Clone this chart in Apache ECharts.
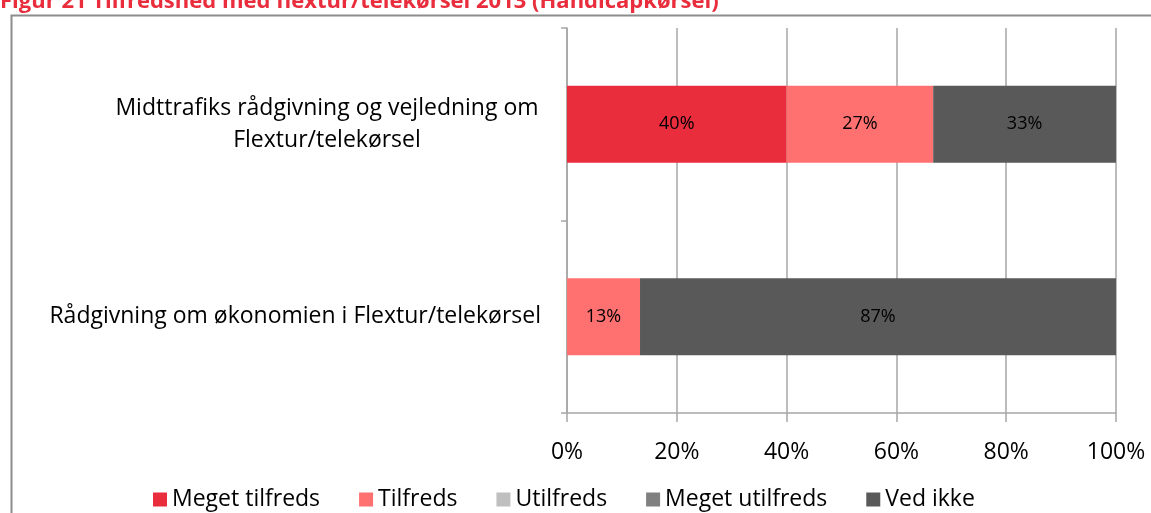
<!DOCTYPE html>
<html>
<head>
<meta charset="utf-8">
<script src="https://cdn.jsdelivr.net/npm/echarts@6/dist/echarts.min.js"></script>
<style>
  html, body { margin: 0; padding: 0; background: #fff; }
  #chart { width: 1151px; height: 513px; }
</style>
</head>
<body>
<div id="chart"></div>
<script>
// Categories (bottom to top, as ECharts draws a category y-axis)
const categories = [
  "Rådgivning om økonomien i Flextur/telekørsel",
  "Midttrafiks rådgivning og vejledning om\nFlextur/telekørsel"
];
const seriesNames = ["Meget tilfreds", "Tilfreds", "Utilfreds", "Meget utilfreds", "Ved ikke"];
const megetTilfreds = [0, 40];
const tilfreds = [13.3, 26.7];
const utilfreds = [0, 0];
const megetUtilfreds = [0, 0];
const vedIkke = [86.7, 33.3];
const xTicks = [0, 20, 40, 60, 80, 100];

const COLORS = ["#E92D3C", "#FF7171", "#BFBFBF", "#808080", "#595959"];
const FONT = "Open Sans";
const GRID_COLOR = "#A6A6A6";

const chart = echarts.init(document.getElementById("chart"));

const values = [megetTilfreds, tilfreds, utilfreds, megetUtilfreds, vedIkke];

const option = {
  backgroundColor: "#fff",
  animation: false,
  textStyle: { fontFamily: FONT },
  graphic: [
    {
      type: "rect",
      left: 9,
      top: 13,
      shape: { width: 1160, height: 520 },
      style: { fill: "none", stroke: "#8C8C8C", lineWidth: 2 },
      silent: true
    },
    {
      type: "text",
      left: 0,
      top: -9,
      style: {
        text: "Figur 21 Tilfredshed med flextur/telekørsel 2013 (Handicapkørsel)",
        fill: "#E92D3C",
        font: "bold 22px " + FONT
      }
    }
  ],
  legend: {
    top: 483,
    left: 148,
    icon: "rect",
    itemWidth: 14,
    itemHeight: 14,
    itemGap: 39,
    textStyle: { fontSize: 23, color: "#000", fontFamily: FONT },
    data: seriesNames
  },
  grid: { left: 567, right: 35, top: 28, bottom: 100 },
  xAxis: {
    type: "value",
    min: 0,
    max: 100,
    interval: 20,
    axisLine: { show: true, lineStyle: { color: GRID_COLOR, width: 1.5 } },
    axisTick: { show: true, length: 9, lineStyle: { color: GRID_COLOR, width: 1.5 } },
    splitLine: { show: true, lineStyle: { color: GRID_COLOR, width: 1.5 } },
    axisLabel: {
      margin: 28,
      fontSize: 23,
      color: "#000",
      formatter: (v) => (xTicks.includes(v) ? v + "%" : "")
    }
  },
  yAxis: {
    type: "category",
    data: categories,
    axisLine: { show: true, lineStyle: { color: GRID_COLOR, width: 1.5 } },
    axisTick: { show: true, length: 6, lineStyle: { color: GRID_COLOR, width: 1.5 } },
    axisLabel: {
      margin: 26,
      fontSize: 23,
      color: "#000",
      lineHeight: 32,
      formatter: (v) => {
        const lines = v.split("\n");
        if (lines.length === 1) return v;
        return lines.map((l) => "{c|" + l + "}").join("\n");
      },
      rich: {
        c: { width: 428, align: "center", fontSize: 23, lineHeight: 32, color: "#000" }
      }
    }
  },
  series: seriesNames.map((name, i) => ({
    name: name,
    type: "bar",
    stack: "total",
    barWidth: "40%",
    itemStyle: { color: COLORS[i] },
    label: {
      show: true,
      position: "inside",
      fontSize: 18,
      color: "#000",
      formatter: (p) => (p.value > 0 ? Math.round(p.value) + "%" : "")
    },
    data: values[i]
  }))
};

chart.setOption(option);
</script>
</body>
</html>
